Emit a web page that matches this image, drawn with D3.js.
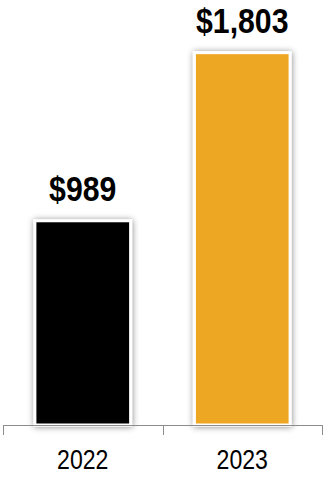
<!DOCTYPE html>
<html>
<head>
<meta charset="utf-8">
<script src="https://cdn.jsdelivr.net/npm/d3@7"></script>
<style>
  html, body { margin: 0; padding: 0; background: #fff; }
  svg { display: block; }
</style>
</head>
<body>
<svg id="chart" width="324" height="477"></svg>
<script>
// Annual totals
const years = ["2022", "2023"];
const totals = [989, 1803];
const barColors = ["#000000", "#eea722"];
const valueLabels = ["$989", "$1,803"];

const W = 324, H = 477;
const axisY = 425;
const condense = 0.84; // narrow type: horizontal squeeze of the sans face
const svg = d3.select("#chart");

const defs = svg.append("defs");
const shadow = defs.append("filter")
  .attr("id", "barShadow")
  .attr("x", "-20%").attr("y", "-20%")
  .attr("width", "140%").attr("height", "140%");
shadow.append("feDropShadow")
  .attr("dx", 0.5).attr("dy", 0.5)
  .attr("stdDeviation", 3)
  .attr("flood-color", "#000")
  .attr("flood-opacity", 0.45);

const x = d3.scaleBand()
  .domain(years)
  .range([3, 322])
  .paddingInner(0.4)
  .paddingOuter(0.2);

const y = d3.scaleLinear()
  .domain([0, 2000])
  .range([axisY, 12]);

const data = years.map((yr, i) => ({ yr, v: totals[i], c: barColors[i], lab: valueLabels[i] }));
const cx = d => x(d.yr) + x.bandwidth() / 2;

// Bars with white outline and soft shadow
svg.append("g").selectAll("rect")
  .data(data)
  .join("rect")
  .attr("x", d => x(d.yr))
  .attr("y", d => y(d.v))
  .attr("width", x.bandwidth())
  .attr("height", d => axisY - y(d.v))
  .attr("fill", d => d.c)
  .attr("stroke", "#fff")
  .attr("stroke-width", 3)
  .attr("filter", "url(#barShadow)");

// Category axis: ticks sit on the band boundaries
const edge = d3.scaleLinear().domain([0, years.length]).range([3, 322]);
const axisG = svg.append("g").attr("stroke", "#8c8c8c").attr("stroke-width", 1);
axisG.append("line")
  .attr("x1", 3).attr("x2", 322)
  .attr("y1", axisY + 0.5).attr("y2", axisY + 0.5);
axisG.selectAll("line.tick")
  .data(d3.range(years.length + 1))
  .join("line")
  .attr("class", "tick")
  .attr("x1", d => Math.round(edge(d)) + 0.5)
  .attr("x2", d => Math.round(edge(d)) + 0.5)
  .attr("y1", axisY)
  .attr("y2", axisY + 10);

const font = "'Liberation Sans', Arial, sans-serif";

// Year labels
svg.append("g").selectAll("text")
  .data(data)
  .join("text")
  .attr("transform", d => `translate(${cx(d)},469) scale(${condense},1)`)
  .attr("text-anchor", "middle")
  .attr("font-family", font)
  .attr("font-size", 27.5)
  .attr("fill", "#000")
  .text(d => d.yr);

// Value labels above bars
svg.append("g").selectAll("text")
  .data(data)
  .join("text")
  .attr("transform", d => `translate(${cx(d)},${y(d.v) - 20}) scale(${condense},1)`)
  .attr("text-anchor", "middle")
  .attr("font-family", font)
  .attr("font-weight", "bold")
  .attr("font-size", 36)
  .attr("fill", "#000")
  .text(d => d.lab);
</script>
</body>
</html>
